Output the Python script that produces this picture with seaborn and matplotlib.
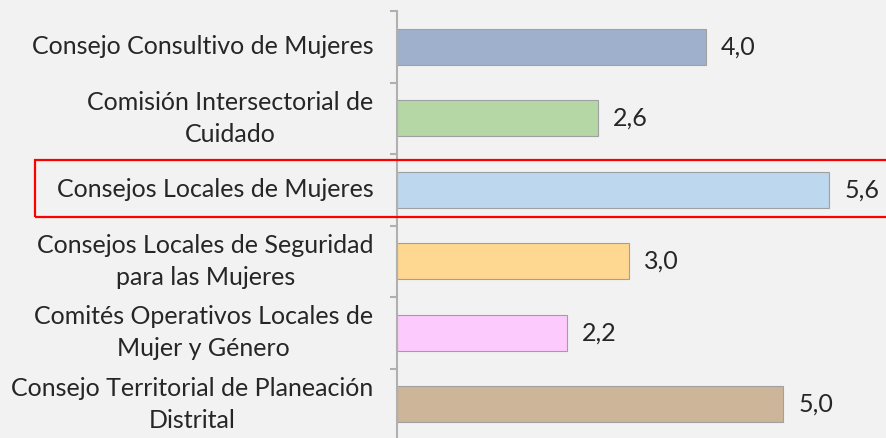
import matplotlib
matplotlib.use("Agg")
import matplotlib.pyplot as plt
from matplotlib.patches import Rectangle
from matplotlib.ticker import FixedLocator
import seaborn as sns
import pandas as pd

# Chart data
categories = [
    "Consejo Consultivo de Mujeres",
    "Comisión Intersectorial de\nCuidado",
    "Consejos Locales de Mujeres",
    "Consejos Locales de Seguridad\npara las Mujeres",
    "Comités Operativos Locales de\nMujer y Género",
    "Consejo Territorial de Planeación\nDistrital",
]
values = [4.0, 2.6, 5.6, 3.0, 2.2, 5.0]
bar_colors = ["#9fb0cc", "#b5d6a5", "#bdd7ee", "#fed890", "#fdcafd", "#cdb59a"]
value_labels = [f"{v:.1f}".replace(".", ",") for v in values]
highlighted = "Consejos Locales de Mujeres"

sns.set_theme(style="white")
plt.rcParams["font.family"] = ["Lato", "DejaVu Sans"]

BG = "#f2f2f2"
TEXT = "#262626"

df = pd.DataFrame({"categoria": categories, "valor": values})

fig = plt.figure(figsize=(8.86, 4.38), dpi=100, facecolor=BG)
ax = fig.add_axes([397 / 886, -2 / 438, 489 / 886, 429 / 438])
ax.set_facecolor(BG)

sns.barplot(
    data=df, x="valor", y="categoria", hue="categoria",
    palette=bar_colors, saturation=1, orient="h", width=0.5, legend=False,
    edgecolor="#a0a0a0", linewidth=0.8, ax=ax,
)

ax.set_xlim(0, 489 / 77.2)
ax.set_ylim(5.5, -0.5)
ax.set_xlabel("")
ax.set_ylabel("")
ax.set_xticks([])

# Category labels: block right-aligned, lines centred
ax.set_yticks(range(len(categories)))
ax.set_yticklabels(categories, fontsize=18, color=TEXT, va="center",
                   multialignment="center", linespacing=1.45)
ax.tick_params(axis="y", which="major", length=0, pad=17)
ax.yaxis.set_minor_locator(FixedLocator([i - 0.5 for i in range(len(categories) + 1)]))
ax.tick_params(axis="y", which="minor", length=5, width=1.5, color="#b0b0b0", left=True)

for side in ["top", "right", "bottom"]:
    ax.spines[side].set_visible(False)
ax.spines["left"].set_color("#b0b0b0")
ax.spines["left"].set_linewidth(1.5)

for container in ax.containers:
    idx = int(round(container[0].get_y() + container[0].get_height() / 2))
    ax.bar_label(container, labels=[value_labels[idx]], padding=11,
                 fontsize=18, color=TEXT)

# Frame around the highlighted council
row = categories.index(highlighted)
fig.add_artist(Rectangle((35 / 886, 1 - 216.5 / 438), 855 / 886, 56.5 / 438,
                         transform=fig.transFigure, fill=False,
                         edgecolor="#ff0000", linewidth=1.6, clip_on=False))

fig.savefig("out.png", dpi=100, facecolor=BG)
